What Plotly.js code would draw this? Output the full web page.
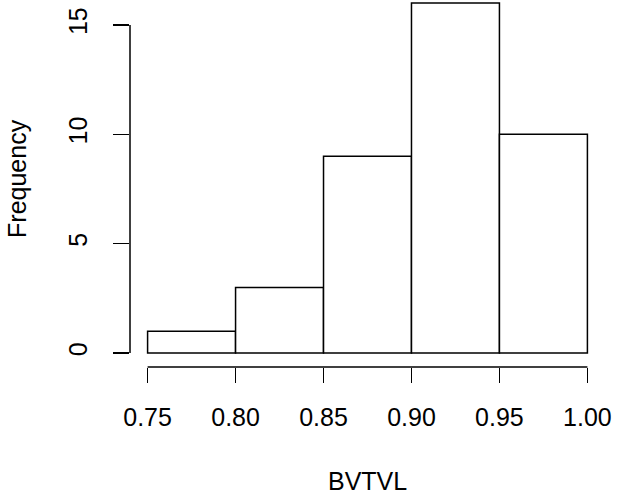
<!DOCTYPE html>
<html><head><meta charset="utf-8">
<script src="https://cdn.plot.ly/plotly-3.0.1.min.js"></script>
<style>html,body{margin:0;padding:0;background:#fff}#c{width:618px;height:497px}</style>
</head><body><div id="c"></div>
<script>
const binEdges = [0.75, 0.80, 0.85, 0.90, 0.95, 1.00];
const counts = [1, 3, 9, 16, 10];
const xTicks = [0.75, 0.80, 0.85, 0.90, 0.95, 1.00];
const xTickLabels = ["0.75", "0.80", "0.85", "0.90", "0.95", "1.00"];
const yTicks = [0, 5, 10, 15];
const yTickLabels = ["0", "5", "10", "15"];
const xLabel = "BVTVL";
const yLabel = "Frequency";

const mids = counts.map((_, i) => (binEdges[i] + binEdges[i + 1]) / 2);
const widths = counts.map((_, i) => binEdges[i + 1] - binEdges[i]);
const font = {family: "Liberation Sans, Arial, sans-serif", size: 25, color: "#000"};

const trace = {
  type: "bar", x: mids, y: counts, width: widths,
  marker: {color: "#fff", line: {color: "#000", width: 1.5}},
  hoverinfo: "none"
};
const layout = {
  width: 618, height: 497,
  margin: {l: 130, r: 13, t: 0, b: 130},
  paper_bgcolor: "#fff", plot_bgcolor: "#fff",
  showlegend: false, font: font,
  xaxis: {range: [0.74, 1.01], tickmode: "array", tickvals: xTicks, ticktext: xTickLabels,
    ticks: "outside", ticklen: 15, tickwidth: 1.5, tickcolor: "#000",
    showline: false, showgrid: false, zeroline: false, ticklabelstandoff: 13, tickfont: font},
  yaxis: {range: [-0.64, 16.14], tickmode: "array", tickvals: yTicks, ticktext: yTickLabels,
    ticks: "outside", ticklen: 16, tickwidth: 1.5, tickcolor: "#000", tickangle: -90,
    showline: false, showgrid: false, zeroline: false, ticklabelstandoff: 16, tickfont: font},
  shapes: [
    {type: "line", xref: "x", yref: "paper", x0: xTicks[0], x1: xTicks[xTicks.length - 1], y0: 0, y1: 0,
      line: {color: "#000", width: 1.5}},
    {type: "line", xref: "paper", yref: "y", x0: 0, x1: 0, y0: yTicks[0], y1: yTicks[yTicks.length - 1],
      line: {color: "#000", width: 1.5}}
  ],
  annotations: [
    {text: xLabel, xref: "paper", yref: "paper", x: 0.5, y: -0.31, showarrow: false,
      xanchor: "center", yanchor: "middle", font: font},
    {text: yLabel, xref: "paper", yref: "paper", x: -0.238, y: 0.515, showarrow: false, textangle: -90,
      xanchor: "center", yanchor: "middle", font: font}
  ]
};
Plotly.newPlot("c", [trace], layout, {displayModeBar: false, staticPlot: true});
</script></body></html>
